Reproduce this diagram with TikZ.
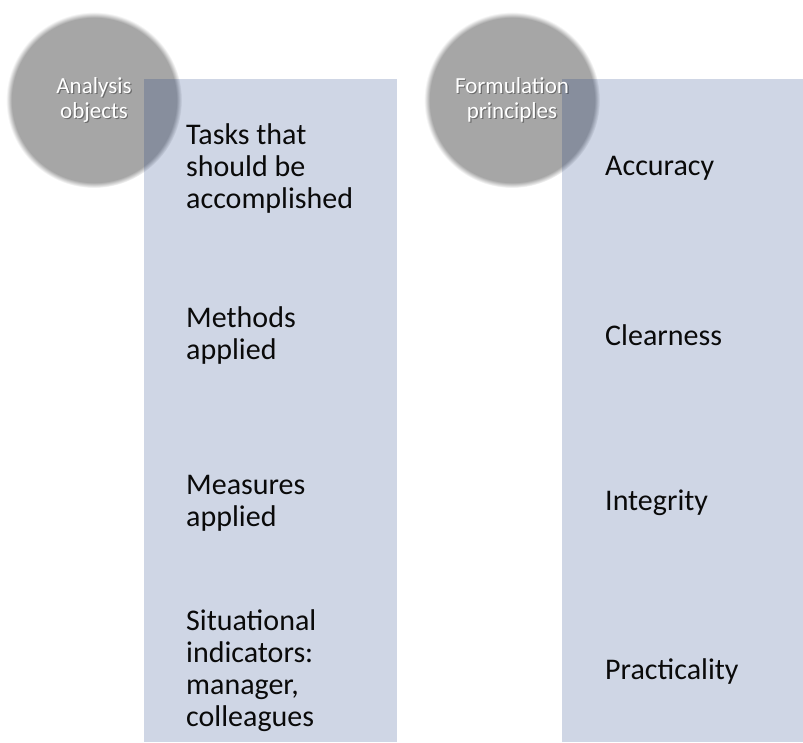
\documentclass[tikz,border=0pt]{standalone}
\usepackage{fontspec}
\setmainfont{Carlito}
\definecolor{circgray}{RGB}{166,166,166}
\definecolor{rectblue}{RGB}{15,50,125}
\definecolor{txt}{RGB}{10,10,10}
\pgfdeclareradialshading{softdisc}{\pgfpointorigin}{%
  color(0bp)=(circgray); color(23.4bp)=(circgray);
  color(25bp)=(white); color(50bp)=(white)}
\begin{document}
\begin{tikzpicture}[x=1pt,y=-1pt,
  colrect/.style={fill=rectblue,fill opacity=0.2,draw=none},
  itemtext/.style={anchor=west,inner sep=0pt,align=left,text=txt,
    font=\fontsize{30}{32}\selectfont},
  circtext/.style={inner sep=0pt,align=center,text=white,
    font=\fontsize{23}{25}\selectfont},
  circshadow/.style={circtext,text=black,text opacity=0.35}]
\useasboundingbox (0,0) rectangle (803,742);
% circles with soft edge
\coordinate (ca) at (94,100);
\coordinate (cb) at (512,100);
\shade[shading=softdisc] (ca) circle[radius=88];
\shade[shading=softdisc] (cb) circle[radius=88];
% column rectangles
\fill[colrect] (144,79) rectangle (397,742);
\fill[colrect] (562,79) rectangle (803,742);
% circle labels
\node[circshadow] at ([shift={(1.2,1.2)}]ca) {Analysis\\objects};
\node[circtext] (la) at (ca) {Analysis\\objects};
\node[circshadow] at ([shift={(1.2,1.2)}]cb) {Formulation\\principles};
\node[circtext] (lb) at (cb) {Formulation\\principles};
% left column items
\node[itemtext] (t1) at (186,168) {Tasks that\\should be\\accomplished};
\node[itemtext] (t2) at (186,335) {Methods\\applied};
\node[itemtext] (t3) at (186,503) {Measures\\applied};
\node[itemtext] (t4) at (186,671) {Situational\\indicators:\\manager,\\colleagues};
% right column items
\node[itemtext] (r1) at (605,168) {Accuracy};
\node[itemtext] (r2) at (605,335) {Clearness};
\node[itemtext] (r3) at (605,503) {Integrity};
\node[itemtext] (r4) at (605,671) {Practicality};
\end{tikzpicture}
\end{document}
